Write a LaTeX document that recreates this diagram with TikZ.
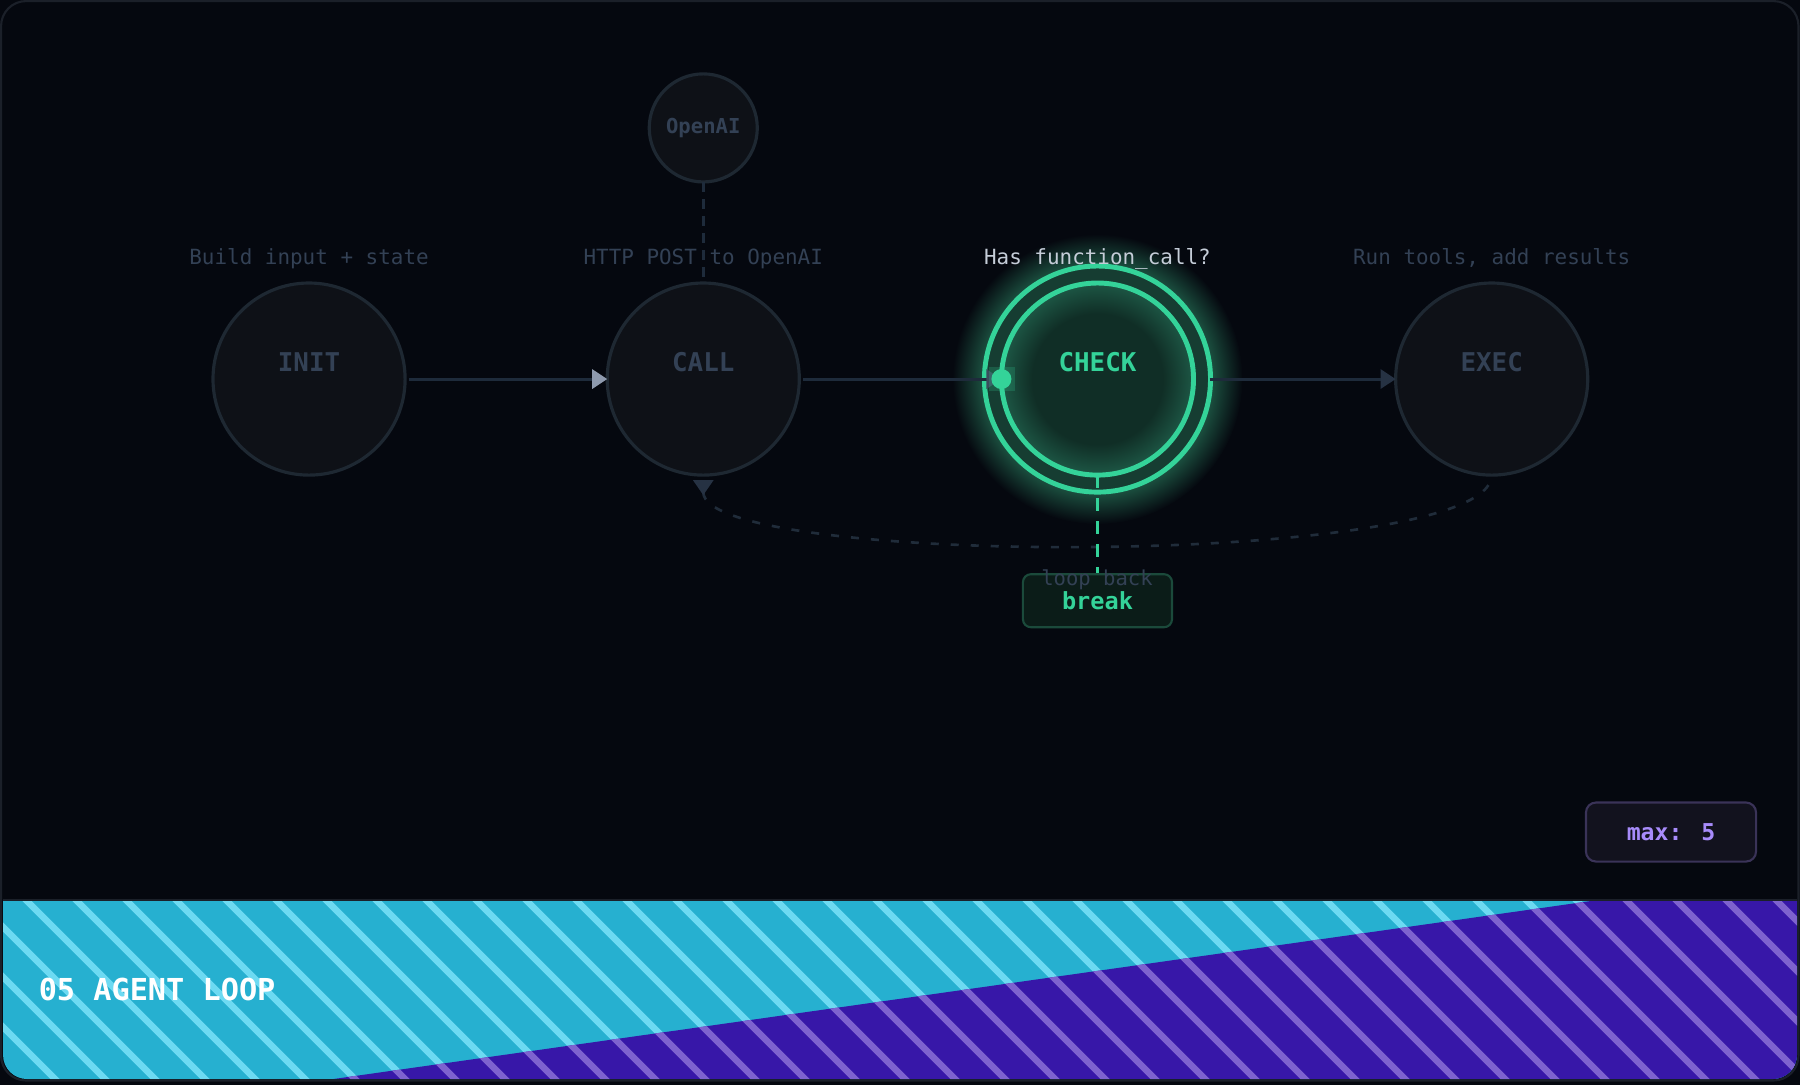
\documentclass[tikz,border=0pt]{standalone}
\usepackage{fontspec}
\setmainfont{DejaVu Sans Mono}
\usepackage{xcolor}
\usetikzlibrary{arrows.meta,positioning,calc}

\definecolor{bgc}{HTML}{05080F}
\definecolor{framec}{HTML}{1B2029}
\definecolor{nodefill}{HTML}{0E1117}
\definecolor{nodeline}{HTML}{1E2832}
\definecolor{dimtxt}{HTML}{334155}
\definecolor{wirec}{HTML}{1E2B3B}
\definecolor{loopc}{HTML}{202C3A}
\definecolor{tiplite}{HTML}{8E9AAE}
\definecolor{tipmid}{HTML}{3B4B5C}
\definecolor{tipdark}{HTML}{263243}
\definecolor{mint}{HTML}{34D399}
\definecolor{glowc}{HTML}{1C5241}
\definecolor{checkin}{HTML}{102E26}
\definecolor{checkedge}{HTML}{1D5745}
\definecolor{ringfill}{HTML}{163D32}
\definecolor{capbright}{HTML}{C5CDD8}
\definecolor{brkfill}{HTML}{0B1C18}
\definecolor{brkline}{HTML}{1B4A3B}
\definecolor{maxfill}{HTML}{12121E}
\definecolor{maxline}{HTML}{3A3358}
\definecolor{maxtxt}{HTML}{A78BFA}
\definecolor{bandcyan}{HTML}{26B0D0}
\definecolor{stripecyan}{HTML}{6DDAF2}
\definecolor{bandpurple}{HTML}{3717A8}
\definecolor{stripepurple}{HTML}{7E62CF}

% radius of a shaded circle is 25bp of the shading
\pgfdeclareradialshading{checkglow}{\pgfpoint{0bp}{0bp}}{color(0bp)=(glowc); color(19.5bp)=(glowc); color(25bp)=(bgc); color(50bp)=(bgc)}
\pgfdeclareradialshading{checkfill}{\pgfpoint{0bp}{0bp}}{color(0bp)=(checkin); color(17bp)=(checkin); color(25bp)=(checkedge); color(50bp)=(checkedge)}

\pgfdeclarelayer{back}
\pgfdeclarelayer{glow}
\pgfsetlayers{back,glow,main}

\begin{document}
\begin{tikzpicture}[x=0.01cm,y=-0.01cm,node distance=2.02cm,
  base/.style={circle,draw=nodeline,fill=nodefill,line width=0.9pt,inner sep=0pt,outer sep=0pt,text=dimtxt},
  state/.style={base,minimum size=1.92cm,font=\bfseries\fontsize{7.35pt}{9pt}\selectfont,text height=0.2cm,text depth=0.35cm},
  captxt/.style={text=dimtxt,font=\fontsize{5.95pt}{7pt}\selectfont,inner sep=0pt,text depth=0pt,label distance=0.18cm},
  wire/.style={draw=wirec,line width=0.85pt},
  tip/.style={-{Triangle[length=0.15cm,width=0.19cm,color=#1]}}]
\begin{pgfonlayer}{back}
\fill[bgc] (0,0) rectangle (1800,1085);
\end{pgfonlayer}
\node[state,label={[captxt]above:Build input + state}] (init) at (309,379) {INIT};
\node[state,right=of init,label={[captxt]above:HTTP POST to OpenAI}] (call) {CALL};
\node[state,right=of call,shade,shading=checkfill,draw=mint,line width=1.4pt,text=mint,label={[captxt,text=capbright]above:Has function\_call?}] (check) {CHECK};
\node[state,right=of check,label={[captxt]above:Run tools, add results}] (exec) {EXEC};
\node[base,minimum size=1.08cm,above=1.01cm of call,font=\bfseries\fontsize{5.85pt}{7pt}\selectfont] (openai) {OpenAI};
\begin{pgfonlayer}{glow}
\shade[shading=checkglow] (check.center) circle (1.45cm);
\draw[mint,line width=1.4pt,fill=ringfill] (check.center) circle (1.13cm);
\end{pgfonlayer}
\draw[wire,shorten <=0.04cm,tip=tiplite] (init) -- (call);
\draw[wire,shorten <=0.04cm,tip=tipmid] (call) -- (check);
\draw[wire,shorten <=0.16cm,tip=tipdark] (check) -- (exec);
\draw[wire,dash pattern=on 0.1cm off 0.07cm] (openai) -- (call);
\draw[draw=loopc,line width=0.75pt,dash pattern=on 0.08cm off 0.12cm,shorten <=0.05cm,{Triangle[reversed,length=0.15cm,width=0.2cm,color=tipdark]}-] (call.south) .. controls +(0,93) and +(0,93) .. (exec.south);
\node[draw=brkline,fill=brkfill,line width=0.6pt,rounded corners=0.08cm,minimum width=1.49cm,minimum height=0.53cm,below=0.98cm of check,text=mint,font=\bfseries\fontsize{6.7pt}{8pt}\selectfont] (brk) {break};
\draw[mint,line width=0.85pt,dash pattern=on 0.13cm off 0.1cm] (check) -- (brk);
\node[text=dimtxt,font=\fontsize{5.85pt}{7pt}\selectfont,inner sep=0pt] (looplbl) at (1097,580) {loop back};
% token on the wire
\fill[mint,opacity=0.2] ($(check.west)+(-12,-12)$) rectangle ++(26,24);
\fill[mint] (check.west) circle (0.1cm);
\node[draw=maxline,fill=maxfill,line width=0.6pt,rounded corners=0.1cm,minimum width=1.7cm,minimum height=0.59cm,text=maxtxt,font=\bfseries\fontsize{6.6pt}{8pt}\selectfont] (maxbox) at (1671,832) {max: 5};
% striped band
\begin{scope}
\clip (3,901) rectangle (1797,1085);
\clip[rounded corners=0.24cm] (3,700) rectangle (1797,1079);
\fill[bandcyan] (0,895) rectangle (1800,1085);
\foreach \k in {-4,...,36}
  \draw[stripecyan,line width=1.85pt] ({21+50*\k},895) -- ++(190,190);
\clip (291,1085) -- (1633,895) -- (1800,895) -- (1800,1085) -- cycle;
\fill[bandpurple] (0,895) rectangle (1800,1085);
\foreach \k in {-4,...,36}
  \draw[stripepurple,line width=1.85pt] ({21+50*\k},895) -- ++(190,190);
\end{scope}
\draw[framec,line width=0.57pt] (3,900) -- (1797,900);
\node[anchor=west,inner sep=0pt,text=white,font=\bfseries\fontsize{8.6pt}{10pt}\selectfont] (title) at (38,989) {05 AGENT LOOP};
\draw[framec,line width=0.6pt,rounded corners=0.25cm] (1,1) rectangle (1798.5,1080.5);
\end{tikzpicture}
\end{document}
